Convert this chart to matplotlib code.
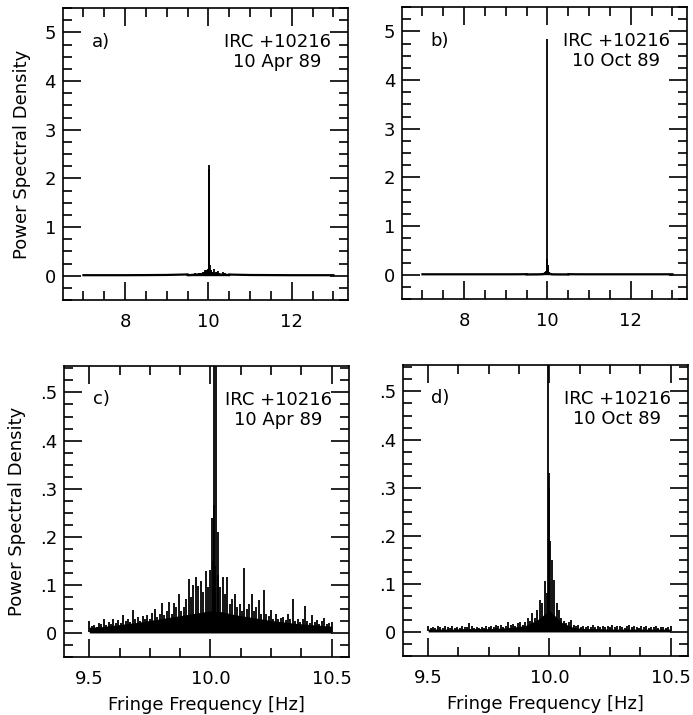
import numpy as np
import matplotlib
matplotlib.use("Agg")
import matplotlib.pyplot as plt
from matplotlib.ticker import MultipleLocator, FuncFormatter

plt.rcParams.update({'font.size': 13, 'font.family': 'DejaVu Sans'})

# fine spectrum, 9.5 - 10.5 Hz in 0.01 Hz bins (peak value in each bin)
freq_fine = np.linspace(9.5, 10.5, 101)
psd_apr = [0.025, 0.014, 0.016, 0.012, 0.020, 0.018, 0.028, 0.016, 0.022, 0.019,
           0.030, 0.020, 0.026, 0.021, 0.037, 0.024, 0.030, 0.022, 0.048, 0.028,
           0.033, 0.025, 0.035, 0.028, 0.037, 0.030, 0.042, 0.049, 0.034, 0.040,
           0.062, 0.038, 0.045, 0.065, 0.040, 0.062, 0.055, 0.082, 0.045, 0.055,
           0.070, 0.112, 0.075, 0.100, 0.116, 0.098, 0.107, 0.085, 0.128, 0.095,
           0.131, 0.150, 0.140, 0.120, 0.095, 0.117, 0.080, 0.117, 0.060, 0.070,
           0.082, 0.055, 0.060, 0.045, 0.135, 0.050, 0.060, 0.082, 0.045, 0.055,
           0.068, 0.040, 0.089, 0.040, 0.035, 0.048, 0.030, 0.040, 0.028, 0.032,
           0.034, 0.026, 0.040, 0.030, 0.071, 0.025, 0.030, 0.022, 0.028, 0.056,
           0.024, 0.020, 0.037, 0.022, 0.026, 0.018, 0.024, 0.032, 0.018, 0.020,
           0.023]
psd_oct = [0.012, 0.008, 0.011, 0.009, 0.012, 0.010, 0.008, 0.012, 0.011, 0.009,
           0.013, 0.008, 0.010, 0.009, 0.012, 0.010, 0.011, 0.018, 0.012, 0.009,
           0.010, 0.008, 0.011, 0.009, 0.012, 0.010, 0.013, 0.011, 0.014, 0.012,
           0.015, 0.011, 0.013, 0.021, 0.014, 0.016, 0.013, 0.018, 0.021, 0.015,
           0.020, 0.028, 0.022, 0.039, 0.030, 0.045, 0.067, 0.060, 0.106, 0.080,
           0.300, 0.150, 0.109, 0.060, 0.045, 0.028, 0.022, 0.018, 0.020, 0.025,
           0.015, 0.012, 0.014, 0.011, 0.013, 0.010, 0.012, 0.011, 0.014, 0.010,
           0.012, 0.011, 0.013, 0.010, 0.012, 0.011, 0.014, 0.010, 0.012, 0.013,
           0.011, 0.009, 0.012, 0.014, 0.010, 0.013, 0.011, 0.009, 0.012, 0.010,
           0.013, 0.009, 0.011, 0.010, 0.012, 0.009, 0.011, 0.010, 0.009, 0.010,
           0.013]

# dense noise floor under the spikes (0.05 Hz steps)
floor_freq = np.linspace(9.5, 10.5, 21)
floor_apr = [0.012, 0.013, 0.016, 0.019, 0.022, 0.026, 0.030, 0.034, 0.038, 0.042, 0.046,
             0.044, 0.038, 0.034, 0.030, 0.026, 0.023, 0.020, 0.018, 0.016, 0.014]
floor_oct = [0.006, 0.006, 0.006, 0.007, 0.007, 0.007, 0.008, 0.010, 0.013, 0.025, 0.045,
             0.020, 0.009, 0.007, 0.007, 0.006, 0.006, 0.006, 0.006, 0.006, 0.006]

# narrow lines near the fringe frequency
line_freq_apr = [10.006, 10.013, 10.016, 10.023, 10.033]
line_apr = [0.24, 0.265, 2.28, 2.20, 0.21]
line_freq_oct = [9.994, 9.997, 10.003]
line_oct = [4.85, 0.33, 0.19]

# wide band outside the fine window (top panels)
wide_freq_lo = [7.0, 7.5, 8.0, 8.5, 9.0, 9.25, 9.5]
wide_freq_hi = [10.5, 10.75, 11.0, 11.5, 12.0, 12.5, 13.0]
wide_apr_lo = [0.010, 0.010, 0.010, 0.012, 0.015, 0.020, 0.025]
wide_apr_hi = [0.023, 0.018, 0.014, 0.012, 0.010, 0.010, 0.010]
wide_oct_lo = [0.008, 0.008, 0.008, 0.008, 0.008, 0.008, 0.010]
wide_oct_hi = [0.010, 0.008, 0.008, 0.008, 0.008, 0.008, 0.008]

source = "IRC +10216"
dates = ["10 Apr 89", "10 Oct 89"]


def style_axes(ax, xmaj, xmin, ymaj, ymin):
    ax.xaxis.set_major_locator(MultipleLocator(xmaj))
    ax.xaxis.set_minor_locator(MultipleLocator(xmin))
    ax.yaxis.set_major_locator(MultipleLocator(ymaj))
    ax.yaxis.set_minor_locator(MultipleLocator(ymin))
    ax.tick_params(which='both', direction='in', top=True, right=True, width=1.2)
    ax.tick_params(which='major', length=13)
    ax.tick_params(which='minor', length=6.5)
    ax.tick_params(axis='x', pad=9)
    ax.tick_params(axis='y', pad=5)
    for s in ax.spines.values():
        s.set_linewidth(1.2)


def draw_spectrum(ax, psd, floor, lf, lv, wlo, whi, wide):
    ax.fill_between(floor_freq, 0, floor, color='black', lw=0)
    ax.vlines(freq_fine, 0.003, psd, color='black', lw=1.3)
    ax.vlines(lf, 0.003, lv, color='black', lw=1.3)
    if wide:
        ax.plot(wide_freq_lo, wlo, color='black', lw=1.6)
        ax.plot(wide_freq_hi, whi, color='black', lw=1.6)
        ax.plot(floor_freq, floor, color='black', lw=1.6)


fig = plt.figure(figsize=(6.93, 7.15), dpi=100)
pos = [[0.0909, 0.5804, 0.4113, 0.4084],
       [0.5801, 0.5818, 0.4113, 0.4084],
       [0.0924, 0.0811, 0.4113, 0.4070],
       [0.5815, 0.0825, 0.4113, 0.4070]]
axs = [fig.add_axes(p) for p in pos]

sets = [(psd_apr, floor_apr, line_freq_apr, line_apr, wide_apr_lo, wide_apr_hi),
        (psd_oct, floor_oct, line_freq_oct, line_oct, wide_oct_lo, wide_oct_hi)]

for i, ax in enumerate(axs):
    d = sets[i % 2]
    top = i < 2
    draw_spectrum(ax, *d, wide=top)
    if top:
        ax.set_xlim(6.51, 13.35)
        ax.set_ylim(-0.5, 5.5)
        style_axes(ax, 2, 0.5, 1, 0.25)
        ax.yaxis.set_major_formatter(FuncFormatter(lambda v, p: "%d" % round(v)))
    else:
        ax.set_xlim(9.396, 10.572)
        ax.set_ylim(-0.05, 0.555)
        style_axes(ax, 0.5, 0.125, 0.1, 0.025)
        ax.xaxis.set_major_formatter(FuncFormatter(lambda v, p: "%.1f" % v))
        ax.yaxis.set_major_formatter(FuncFormatter(
            lambda v, p: "0" if abs(v) < 1e-9 else ("%.1f" % v).lstrip("0")))
        ax.set_xlabel("Fringe Frequency [Hz]", labelpad=6)
    if i % 2 == 0:
        ax.set_ylabel("Power Spectral Density", labelpad=10)
    ax.text(0.10, 0.885, "abcd"[i] + ")", transform=ax.transAxes, va='center', ha='left')
    ax.text(0.94, 0.915, source + "\n" + dates[i % 2], transform=ax.transAxes,
            va='top', ha='right', multialignment='center', linespacing=1.15)

fig.savefig("out.png", dpi=100)
